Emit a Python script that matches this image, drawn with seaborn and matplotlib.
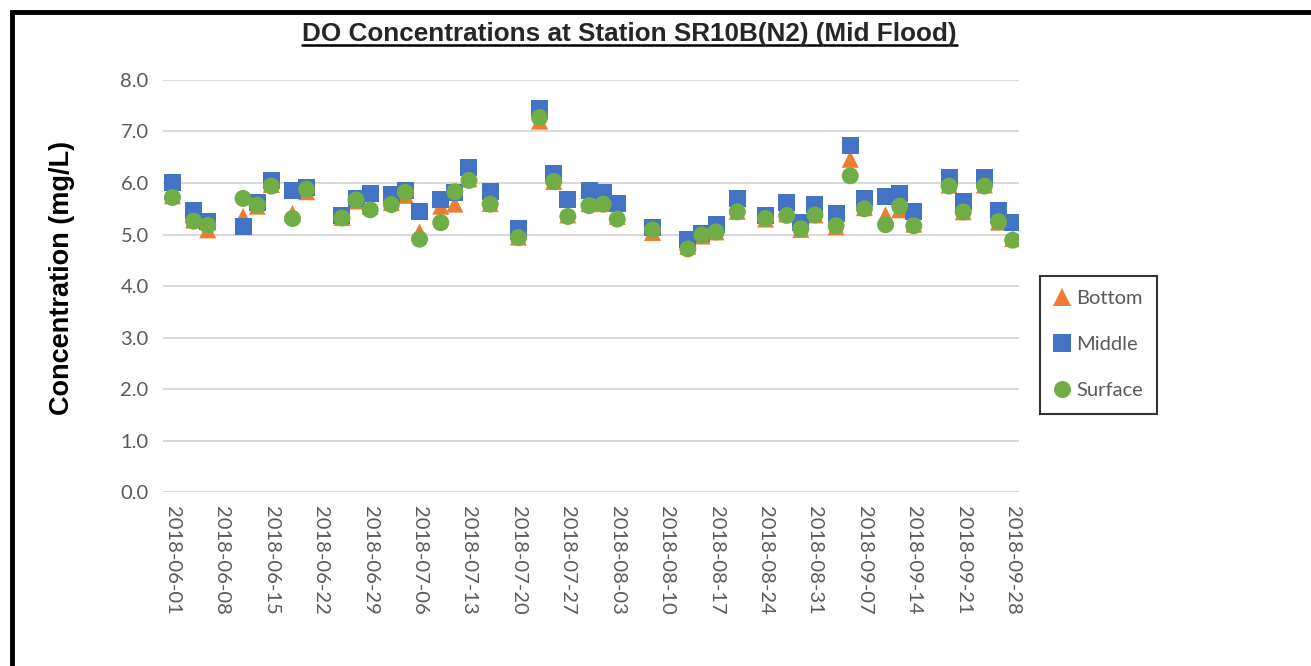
import numpy as np
import pandas as pd
import seaborn as sns
import matplotlib.pyplot as plt
from matplotlib.patches import Rectangle
from matplotlib.lines import Line2D

# sampling dates
dates = ['2018-06-01', '2018-06-04', '2018-06-06', '2018-06-11', '2018-06-13',
         '2018-06-15', '2018-06-18', '2018-06-20', '2018-06-25', '2018-06-27',
         '2018-06-29', '2018-07-02', '2018-07-04', '2018-07-06', '2018-07-09',
         '2018-07-11', '2018-07-13', '2018-07-16', '2018-07-20', '2018-07-23',
         '2018-07-25', '2018-07-27', '2018-07-30', '2018-08-01', '2018-08-03',
         '2018-08-08', '2018-08-13', '2018-08-15', '2018-08-17', '2018-08-20',
         '2018-08-24', '2018-08-27', '2018-08-29', '2018-08-31', '2018-09-03',
         '2018-09-05', '2018-09-07', '2018-09-10', '2018-09-12', '2018-09-14',
         '2018-09-19', '2018-09-21', '2018-09-24', '2018-09-26', '2018-09-28']

bottom = [5.75, 5.28, 5.09, 5.35, 5.55, 5.97, 5.41, 5.83, 5.33, 5.65,
          5.55, 5.62, 5.76, 5.05, 5.55, 5.59, 6.08, 5.60, 4.95, 7.20,
          6.03, 5.38, 5.60, 5.60, 5.35, 5.04, 4.77, 4.97, 5.05, 5.45,
          5.30, 5.40, 5.10, 5.38, 5.15, 6.46, 5.52, 5.38, 5.48, 5.20,
          5.96, 5.44, 5.96, 5.24, 4.92]

middle = [6.00, 5.46, 5.26, 5.16, 5.62, 6.05, 5.86, 5.92, 5.36, 5.69,
          5.80, 5.77, 5.86, 5.44, 5.68, 5.81, 6.30, 5.83, 5.12, 7.44,
          6.19, 5.68, 5.86, 5.82, 5.60, 5.13, 4.91, 5.02, 5.20, 5.70,
          5.36, 5.63, 5.23, 5.58, 5.41, 6.72, 5.69, 5.73, 5.80, 5.44,
          6.11, 5.65, 6.11, 5.47, 5.23]

surface = [5.72, 5.26, 5.18, 5.70, 5.57, 5.94, 5.31, 5.88, 5.32, 5.67,
           5.48, 5.58, 5.82, 4.91, 5.23, 5.83, 6.05, 5.59, 4.94, 7.27,
           6.03, 5.35, 5.56, 5.59, 5.30, 5.09, 4.72, 4.99, 5.05, 5.44,
           5.31, 5.37, 5.11, 5.38, 5.17, 6.14, 5.50, 5.19, 5.55, 5.17,
           5.94, 5.44, 5.94, 5.25, 4.89]

series_names = ['Bottom', 'Middle', 'Surface']
series_colors = {'Bottom': '#ED7D31', 'Middle': '#4472C4', 'Surface': '#70AD47'}
series_markers = {'Bottom': '^', 'Middle': 's', 'Surface': 'o'}

# long-form table, drawn in order Bottom -> Middle -> Surface
frames = []
for name, vals in zip(series_names, [bottom, middle, surface]):
    frames.append(pd.DataFrame({'date': pd.to_datetime(dates), 'value': vals, 'depth': name}))
df = pd.concat(frames, ignore_index=True)

sns.set_style('white')
plt.rcParams['font.family'] = ['Lato', 'DejaVu Sans']

fig = plt.figure(figsize=(13.11, 6.66), dpi=100)
ax = fig.add_axes([0.124, 0.261, 0.653, 0.619])

sns.scatterplot(data=df, x='date', y='value', hue='depth', style='depth',
                palette=series_colors, markers=series_markers,
                hue_order=series_names, style_order=series_names,
                s=150, linewidth=0, alpha=1, ax=ax, zorder=3)

start = pd.Timestamp('2018-06-01')
end = pd.Timestamp('2018-09-28')
ax.set_xlim(start - pd.Timedelta(days=1.4), end + pd.Timedelta(days=0.85))
ax.set_ylim(0, 8)
ax.set_yticks(np.arange(0, 8.1, 1.0))
ax.set_yticklabels([f'{v:.1f}' for v in np.arange(0, 8.1, 1.0)])

xt = pd.date_range(start, end, freq='7D')
ax.set_xticks(xt)
ax.set_xticklabels([d.strftime('%Y-%m-%d') for d in xt], rotation=270)

ax.tick_params(axis='both', length=0, labelsize=14.5, colors='#595959')
ax.tick_params(axis='x', pad=10)
ax.tick_params(axis='y', pad=10)
ax.grid(axis='y', color='#D9D9D9', linewidth=1.5, zorder=0)
ax.grid(axis='x', visible=False)
for sp in ax.spines.values():
    sp.set_visible(False)

ax.set_xlabel('')
ax.set_ylabel('Concentration (mg/L)', fontsize=19.5, fontweight='bold',
              family='Liberation Sans', color='black')
ax.yaxis.set_label_coords(-0.102, 0.52)

leg = ax.legend(loc='center left', bbox_to_anchor=(1.025, 0.358), frameon=True,
                fontsize=14.5, handletextpad=0.3, handlelength=0.8,
                labelspacing=1.45, borderpad=0.7, borderaxespad=0,
                fancybox=False)
leg.get_frame().set_edgecolor('black')
leg.get_frame().set_linewidth(1.5)
for t in leg.get_texts():
    t.set_color('#595959')

# title with underline
title = fig.text(0.48, 0.949, 'DO Concentrations at Station SR10B(N2) (Mid Flood)',
                 ha='center', va='center', fontsize=18.8, fontweight='bold',
                 family='Liberation Sans')
fig.canvas.draw()
bb = title.get_window_extent().transformed(fig.transFigure.inverted())
fig.add_artist(Line2D([bb.x0, bb.x1], [bb.y0 + 0.001, bb.y0 + 0.001],
                      color='black', linewidth=1.8))

# outer frame
fig.add_artist(Rectangle((0.0095, -0.02), 1.02, 1.002, transform=fig.transFigure,
                         fill=False, edgecolor='black', linewidth=3.5))

fig.savefig('out.png', dpi=100)
